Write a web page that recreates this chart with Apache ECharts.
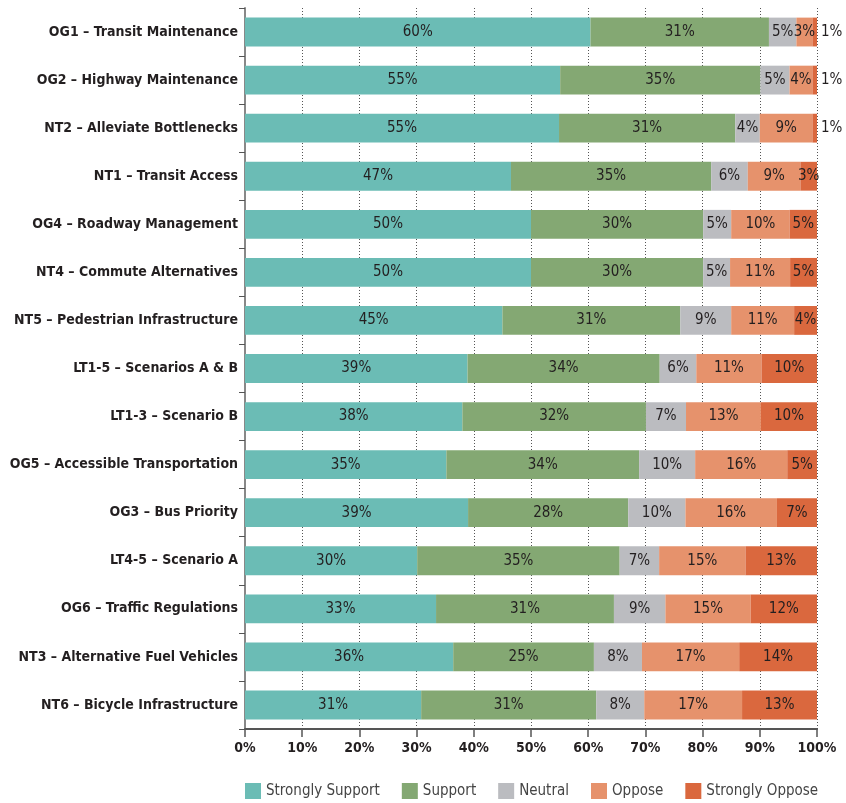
<!DOCTYPE html>
<html>
<head>
<meta charset="utf-8">
<script src="https://cdn.jsdelivr.net/npm/echarts@6/dist/echarts.min.js"></script>
<style>
  html, body { margin: 0; padding: 0; background: #fff; }
  #chart { width: 846px; height: 803px; }
</style>
</head>
<body>
<div id="chart"></div>
<script>
const categories = [
  'OG1 – Transit Maintenance',
  'OG2 – Highway Maintenance',
  'NT2 – Alleviate Bottlenecks',
  'NT1 – Transit Access',
  'OG4 – Roadway Management',
  'NT4 – Commute Alternatives',
  'NT5 – Pedestrian Infrastructure',
  'LT1-5 – Scenarios A & B',
  'LT1-3 – Scenario B',
  'OG5 – Accessible Transportation',
  'OG3 – Bus Priority',
  'LT4-5 – Scenario A',
  'OG6 – Traffic Regulations',
  'NT3 – Alternative Fuel Vehicles',
  'NT6 – Bicycle Infrastructure'
]

// percent of responses
const stronglySupport = [60.4, 55.1, 54.9, 46.5, 50.0, 50.0, 45.0, 38.9, 38.0, 35.2, 39.0, 30.1, 33.4, 36.4, 30.8]
const support         = [31.2, 35.0, 30.8, 35.0, 30.1, 30.1, 31.1, 33.6, 32.1, 33.7, 28.0, 35.4, 31.1, 24.6, 30.6]
const neutral         = [4.8, 5.1, 4.3, 6.4, 4.9, 4.7, 8.9, 6.4, 7.0, 9.8, 10.0, 6.9, 9.0, 8.4, 8.4]
const oppose          = [2.8, 4.0, 9.2, 9.2, 10.2, 10.5, 11.0, 11.4, 13.1, 16.1, 16.0, 15.1, 14.9, 17.0, 17.1]
const stronglyOppose  = [0.8, 0.8, 0.8, 2.9, 4.8, 4.7, 4.0, 9.7, 9.8, 5.2, 7.0, 12.5, 11.6, 13.6, 13.1]

const xTicks = [0, 10, 20, 30, 40, 50, 60, 70, 80, 90, 100]

const FONT = "'DejaVu Sans Condensed', 'Liberation Sans Narrow', sans-serif"
const TEXT = '#231f20'

const seriesDefs = [
  { name: 'Strongly Support', data: stronglySupport, color: '#6bbcb5' },
  { name: 'Support', data: support, color: '#84a873' },
  { name: 'Neutral', data: neutral, color: '#bbbcc0' },
  { name: 'Oppose', data: oppose, color: '#e6926c' },
  { name: 'Strongly Oppose', data: stronglyOppose, color: '#da683e' }
]

const chart = echarts.init(document.getElementById('chart'))

const option = {
  animation: false,
  grid: { left: 245, right: 29, top: 8, bottom: 74, containLabel: false, outerBoundsMode: 'none' },
  legend: {
    data: seriesDefs.map(s => s.name),
    left: 245,
    top: 783,
    width: 620,
    padding: 0,
    icon: 'rect',
    itemWidth: 16,
    itemHeight: 16,
    itemGap: 22,
    textStyle: { fontFamily: FONT, fontSize: 15, color: '#444' }
  },
  xAxis: {
    type: 'value',
    min: xTicks[0],
    max: xTicks[xTicks.length - 1],
    interval: 10,
    axisLine: { show: true, lineStyle: { color: '#555', width: 2 } },
    axisTick: { show: true, length: 8, lineStyle: { color: '#555', width: 1.5 } },
    axisLabel: {
      margin: 12,
      fontFamily: FONT,
      fontSize: 14,
      fontWeight: 'bold',
      color: TEXT,
      formatter: '{value}%'
    },
    splitLine: {
      show: true,
      lineStyle: { color: '#555', width: 1, type: [1, 2] }
    }
  },
  yAxis: {
    type: 'category',
    inverse: true,
    data: categories,
    axisLine: { show: true, lineStyle: { color: '#888', width: 2 } },
    axisTick: { show: true, length: 6, lineStyle: { color: '#555', width: 1 } },
    axisLabel: {
      margin: 7,
      fontFamily: FONT,
      fontSize: 14,
      fontWeight: 'bold',
      color: TEXT
    }
  },
  series: seriesDefs.map(s => ({
    name: s.name,
    type: 'bar',
    stack: 'total',
    barCategoryGap: '40%',
    itemStyle: { color: s.color },
    data: s.data.map(v => {
      const d = { value: v }
      // tiny slices get their label outside, right of the bar
      if (v < 1.5 && s.name === 'Strongly Oppose') {
        d.label = { position: 'right', distance: 4 }
      }
      return d
    }),
    label: {
      show: true,
      position: 'inside',
      fontFamily: FONT,
      fontSize: 15,
      color: TEXT,
      formatter: p => Math.round(p.value) + '%'
    }
  }))
}

chart.setOption(option)
</script>
</body>
</html>
